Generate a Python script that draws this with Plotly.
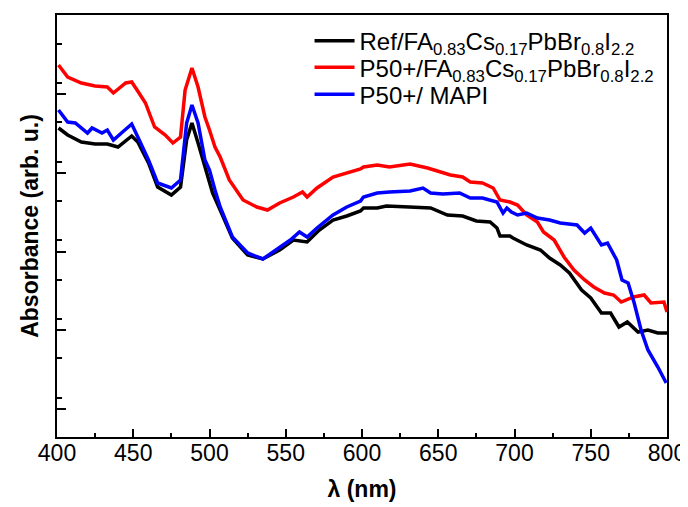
import plotly.graph_objects as go

# wavelength (nm) and absorbance (arb. u.)
ref_wl = [401, 407, 416, 425, 433, 440, 449, 453, 460, 466, 475, 481, 485, 488.5, 492.5, 497, 500, 502, 507,
          515, 525, 535, 546, 555, 564, 572, 581, 590, 599, 601, 610, 616, 631, 645, 656, 666, 675, 684,
          688.5, 690.5, 697, 699, 708, 717, 723, 730, 736, 744, 750, 757, 763, 768.5, 774, 781, 787.5, 794, 800]
ref_abs = [3.09, 3.02, 2.95, 2.93, 2.93, 2.90, 3.01, 2.95, 2.74, 2.50, 2.42, 2.50, 2.97, 3.14, 2.94, 2.70, 2.57, 2.44, 2.27,
           1.99, 1.82, 1.78, 1.87, 1.97, 1.95, 2.07, 2.17, 2.21, 2.26, 2.29, 2.29, 2.31, 2.30, 2.29, 2.22, 2.21, 2.16, 2.15,
           2.09, 2.01, 2.01, 1.99, 1.92, 1.87, 1.79, 1.72, 1.64, 1.47, 1.39, 1.24, 1.24, 1.10, 1.15, 1.05, 1.07, 1.04, 1.04]

p50_fa_wl = [401, 407, 416, 425, 433, 437, 445, 449, 452.5, 458, 464, 471, 476, 481, 484, 488.5, 492.5, 497, 500, 503.6,
             507, 513, 522, 531, 538, 546, 555, 561, 564, 570.5, 581, 590, 599, 601, 610, 618, 631.5, 643, 651, 658,
             666, 671, 679, 686, 690.5, 697, 702, 708, 715, 719, 726, 732.5, 739, 746, 752, 759, 765, 770, 778,
             785, 789.5, 798, 800]
p50_fa_abs = [3.72, 3.60, 3.54, 3.51, 3.50, 3.44, 3.54, 3.55, 3.47, 3.34, 3.10, 3.02, 2.94, 3.00, 3.47, 3.69, 3.50, 3.20, 3.07, 2.90,
              2.80, 2.57, 2.37, 2.30, 2.27, 2.34, 2.40, 2.45, 2.40, 2.49, 2.60, 2.64, 2.68, 2.70, 2.72, 2.70, 2.73, 2.69, 2.65, 2.62,
              2.60, 2.55, 2.54, 2.49, 2.37, 2.35, 2.32, 2.22, 2.15, 2.05, 1.97, 1.80, 1.67, 1.57, 1.50, 1.44, 1.42, 1.35, 1.40,
              1.42, 1.34, 1.35, 1.25]

p50_mapi_wl = [401, 407, 412, 420, 423, 429.5, 433, 437, 443, 449, 453, 460, 466, 475, 481, 485, 488.5, 492.5, 497, 500,
               503.6, 507, 515, 525, 535, 544, 553, 559, 564, 570.5, 581, 590, 599, 601, 610, 618, 631.5, 640, 645, 653,
               664, 671, 679, 688.5, 692.5, 695, 698, 702, 708, 715, 723, 730, 741, 746, 750, 757, 761, 767, 770.5, 774.5,
               778.5, 783, 787.5, 794, 799.5]
p50_mapi_abs = [3.27, 3.15, 3.14, 3.04, 3.09, 3.04, 3.07, 2.97, 3.05, 3.13, 3.00, 2.77, 2.54, 2.49, 2.57, 3.14, 3.32, 3.14, 2.77, 2.67,
                2.47, 2.30, 2.00, 1.84, 1.78, 1.87, 1.97, 2.05, 2.00, 2.09, 2.22, 2.30, 2.36, 2.40, 2.44, 2.45, 2.46, 2.49, 2.44, 2.43,
                2.44, 2.39, 2.39, 2.35, 2.24, 2.29, 2.25, 2.22, 2.24, 2.19, 2.17, 2.14, 2.12, 2.04, 2.09, 1.92, 1.94, 1.77, 1.57, 1.54,
                1.34, 1.07, 0.87, 0.70, 0.54]

names = ["Ref/FA<sub>0.83</sub>Cs<sub>0.17</sub>PbBr<sub>0.8</sub>I<sub>2.2</sub>",
         "P50+/FA<sub>0.83</sub>Cs<sub>0.17</sub>PbBr<sub>0.8</sub>I<sub>2.2</sub>",
         "P50+/ MAPI"]
colors = ["#000000", "#ff0000", "#0000ff"]
legend_ids = ["legend", "legend2", "legend3"]
legend_rows = [0.938, 0.875, 0.811]

fig = go.Figure()
for wl, ab, nm, c, lg in [(ref_wl, ref_abs, names[0], colors[0], legend_ids[0]),
                          (p50_fa_wl, p50_fa_abs, names[1], colors[1], legend_ids[1]),
                          (p50_mapi_wl, p50_mapi_abs, names[2], colors[2], legend_ids[2])]:
    fig.add_trace(go.Scatter(x=wl, y=ab, mode="lines", name=nm, legend=lg,
                             line=dict(color=c, width=3.5)))

font = "Liberation Sans, Arial, sans-serif"
leg_style = dict(x=0.414, xanchor="left", yanchor="middle", bgcolor="rgba(0,0,0,0)",
                 font=dict(size=24, family=font), itemwidth=40)
fig.update_layout(
    width=680, height=499,
    margin=dict(l=49, r=21, t=7, b=70),
    plot_bgcolor="white", paper_bgcolor="white",
    font=dict(family=font, color="black"),
    showlegend=True,
    legend=dict(y=legend_rows[0], **leg_style),
    legend2=dict(y=legend_rows[1], **leg_style),
    legend3=dict(y=legend_rows[2], **leg_style),
    xaxis=dict(range=[400, 800], tick0=400, dtick=50, ticks="inside", ticklen=8, tickwidth=1.5,
               tickcolor="black", showline=True, linewidth=2, linecolor="black", mirror=True,
               showgrid=False, zeroline=False, tickfont=dict(size=23, family=font), automargin=False,
               ticklabelstandoff=-6,
               minor=dict(ticks="inside", ticklen=4, tickwidth=1.5, dtick=25, tickcolor="black", showgrid=False),
               title=dict(text="<b>λ (nm)</b>", font=dict(size=23, family=font), standoff=16)),
    yaxis=dict(range=[0, 4.22], tick0=0.28, dtick=0.787, ticks="inside", ticklen=9, tickwidth=1.5,
               tickcolor="black", showline=True, linewidth=2, linecolor="black", mirror=True,
               showgrid=False, zeroline=False, showticklabels=False, automargin=False,
               minor=dict(ticks="inside", ticklen=5, tickwidth=1.5, dtick=0.3935, tickcolor="black", showgrid=False),
               title=dict(text="<b>Absorbance (arb. u.)</b>", font=dict(size=23, family=font), standoff=10)),
)
fig.write_html("out.html")
